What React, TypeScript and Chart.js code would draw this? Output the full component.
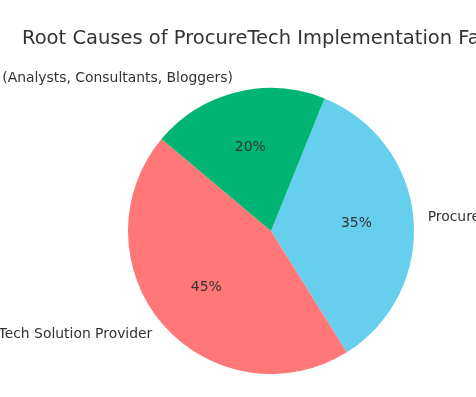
import React, { useEffect, useRef } from "react";
import { Chart, registerables } from "chart.js";

Chart.register(...registerables);

const titleText = "Root Causes of ProcureTech Implementation Failures";
const categories = [
  "Procurement Practitioners",
  "ProcureTech Solution Provider",
  "Industry Influencers (Analysts, Consultants, Bloggers)",
];
const shares = [35, 45, 20];
const colors = ["#66CFED", "#FF7777", "#00B574"];

const labelPlugin = {
  id: "pieLabels",
  afterDatasetsDraw(chart: any) {
    const ctx = chart.ctx;
    const meta = chart.getDatasetMeta(0);
    const total = shares.reduce((a, b) => a + b, 0);
    ctx.save();
    meta.data.forEach((arc: any, i: number) => {
      const { x, y, startAngle, endAngle, outerRadius } = arc.getProps(
        ["x", "y", "startAngle", "endAngle", "outerRadius"],
        true
      );
      const mid = (startAngle + endAngle) / 2;
      const cx = Math.cos(mid);
      const sy = Math.sin(mid);
      ctx.fillStyle = "#333333";
      ctx.font = "13.9px 'DejaVu Sans'";
      ctx.textBaseline = "middle";
      ctx.textAlign = "center";
      const pct = Math.round((shares[i] / total) * 100) + "%";
      ctx.fillText(pct, x + cx * outerRadius * 0.6, y + sy * outerRadius * 0.6);
      const lx = x + cx * outerRadius * 1.1;
      const ly = y + sy * outerRadius * 1.1;
      ctx.textAlign = cx >= 0 ? "left" : "right";
      ctx.fillText(chart.data.labels[i], lx, ly);
    });
    ctx.font = "19.5px 'DejaVu Sans'";
    ctx.fillStyle = "#333333";
    ctx.textAlign = "left";
    ctx.textBaseline = "alphabetic";
    ctx.fillText(titleText, 22, 44);
    ctx.restore();
  },
};

export default function App() {
  const ref = useRef<HTMLCanvasElement | null>(null);
  useEffect(() => {
    if (!ref.current) return;
    const chart = new Chart(ref.current, {
      type: "pie",
      data: {
        labels: categories,
        datasets: [
          {
            data: shares,
            backgroundColor: colors,
            borderWidth: 0,
          },
        ],
      },
      options: {
        responsive: false,
        animation: false,
        rotation: 22,
        layout: { padding: { left: 128, right: 62, top: 88, bottom: 23 } },
        plugins: {
          legend: { display: false },
          title: { display: false },
          tooltip: { enabled: false },
        },
      },
      plugins: [labelPlugin],
    });
    return () => chart.destroy();
  }, []);
  return (
    <div style={{ position: "fixed", left: 0, top: 0, width: 476, height: 397, background: "#fff" }}>
      <canvas ref={ref} width={476} height={397} />
    </div>
  );
}
